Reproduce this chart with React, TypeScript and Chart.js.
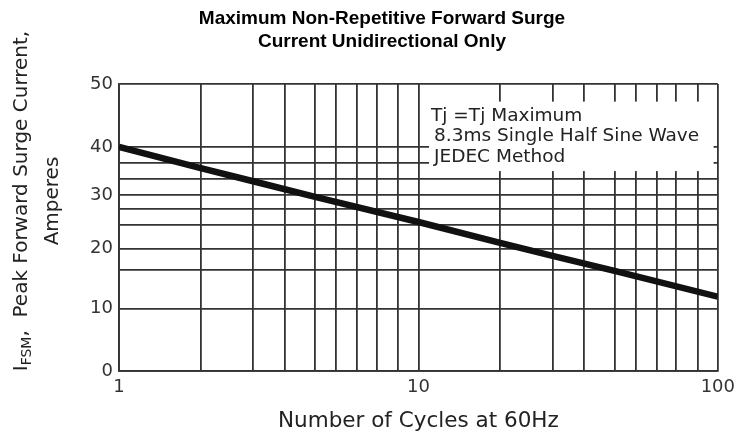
import React, { useEffect, useRef } from 'react';
import { Chart, LinearScale, registerables } from 'chart.js';

Chart.register(...registerables);

// ---------------- data ----------------
const cycles = [1, 2, 3, 5, 10, 20, 30, 50, 100];
const surgeAmps = [40, 35.6, 32.9, 29.7, 25, 21.1, 18.8, 16.3, 12];

const xGridValues = [1, 2, 3, 4, 5, 6, 7, 8, 9, 10, 20, 30, 40, 50, 60, 70, 80, 90, 100];
const xTickLabels = [1, 10, 100];
const yGridValues = [0, 10, 16.4, 20, 24.5, 27.5, 30, 33.4, 36.7, 40, 50];
const yTickLabels = [0, 10, 20, 30, 40, 50];

const titleLines = ['Maximum Non-Repetitive Forward Surge', 'Current Unidirectional Only'];
const noteLines = ['Tj =Tj Maximum', '8.3ms Single Half Sine Wave', 'JEDEC Method'];
const xAxisTitle = 'Number of Cycles at 60Hz';
const yAxisTitleSymbol = 'I';
const yAxisTitleSub = 'FSM';
const yAxisTitleRest = ',  Peak Forward Surge Current,';
const yAxisTitleUnit = 'Amperes';

// ------------- axis calibration (printed-grid geometry) -------------
const decadeSpacing = [0, 0.273, 0.448, 0.554, 0.655, 0.725, 0.795, 0.861, 0.932, 1];
const xCalFractions = xGridValues.map((v, i) =>
  i < 10 ? 0.5 * decadeSpacing[i] : 0.5 + 0.5 * decadeSpacing[i - 9]
);
const yCalValues = [0, 10, 20, 30, 40, 50];
const yCalFractions = [0, 0.2171, 0.4259, 0.6124, 0.7808, 1];

function interp(xs: number[], ys: number[], v: number): number {
  const n = xs.length;
  if (v <= xs[0]) return ys[0] + ((v - xs[0]) * (ys[1] - ys[0])) / (xs[1] - xs[0]);
  for (let i = 1; i < n; i++) {
    if (v <= xs[i]) {
      const t = (v - xs[i - 1]) / (xs[i] - xs[i - 1]);
      return ys[i - 1] + t * (ys[i] - ys[i - 1]);
    }
  }
  return ys[n - 1] + ((v - xs[n - 1]) * (ys[n - 1] - ys[n - 2])) / (xs[n - 1] - xs[n - 2]);
}

function makeCalibratedScale(id: string, values: number[], fractions: number[]) {
  return class extends LinearScale {
    static id = id;
    getPixelForValue(value: any) {
      if (value === null || value === undefined || isNaN(value)) return NaN;
      return this.getPixelForDecimal(interp(values, fractions, value));
    }
    getValueForPixel(pixel: number) {
      return interp(fractions, values, this.getDecimalForPixel(pixel));
    }
  };
}

const CalibratedX = makeCalibratedScale('calibratedX', xGridValues, xCalFractions);
const CalibratedY = makeCalibratedScale('calibratedY', yCalValues, yCalFractions);
Chart.register(CalibratedX as any, CalibratedY as any);

const FONT = '"DejaVu Sans", sans-serif';
const GRID = '#333';

const decorPlugin = {
  id: 'decor',
  beforeDatasetsDraw(chart: any) {
    const { ctx } = chart;
    const xs = chart.scales.x;
    const ys = chart.scales.y;
    const l = xs.getPixelForValue(11.3);
    const r = xs.getPixelForValue(97.9);
    const t = ys.getPixelForValue(47.2);
    const b = ys.getPixelForValue(35.0);
    ctx.save();
    ctx.fillStyle = '#fff';
    ctx.fillRect(l, t, r - l, b - t);
    ctx.restore();
  },
  afterDraw(chart: any) {
    const { ctx } = chart;
    const xs = chart.scales.x;
    const ys = chart.scales.y;
    ctx.save();
    // note text
    const l = xs.getPixelForValue(11.3);
    const t = ys.getPixelForValue(47.2);
    ctx.fillStyle = '#222';
    ctx.font = `18.5px ${FONT}`;
    ctx.textBaseline = 'middle';
    ctx.textAlign = 'left';
    ctx.fillText(noteLines[0], l + 2, t + 15);
    ctx.fillText(noteLines[1], l + 5, t + 35);
    ctx.fillText(noteLines[2], l + 5, t + 56);

    // main title
    ctx.fillStyle = '#000';
    ctx.font = `bold 19px "Liberation Sans", Arial, sans-serif`;
    ctx.textAlign = 'center';
    ctx.fillText(titleLines[0], 382, 19);
    ctx.fillText(titleLines[1], 382, 42);

    // y axis title (rotated)
    ctx.fillStyle = '#222';
    ctx.translate(0, 201);
    ctx.rotate(-Math.PI / 2);
    ctx.textAlign = 'left';
    ctx.textBaseline = 'alphabetic';
    const big = `20px ${FONT}`;
    const small = `14px ${FONT}`;
    ctx.font = big;
    const wI = ctx.measureText(yAxisTitleSymbol).width;
    const wRest = ctx.measureText(yAxisTitleRest).width;
    ctx.font = small;
    const wSub = ctx.measureText(yAxisTitleSub).width;
    let px = -(wI + wSub + wRest) / 2;
    ctx.font = big;
    ctx.fillText(yAxisTitleSymbol, px, 27);
    px += wI;
    ctx.font = small;
    ctx.fillText(yAxisTitleSub, px, 31);
    px += wSub;
    ctx.font = big;
    ctx.fillText(yAxisTitleRest, px, 27);
    ctx.textAlign = 'center';
    ctx.fillText(yAxisTitleUnit, 0, 57.5);
    ctx.restore();
  },
};

export default function App() {
  const ref = useRef<HTMLCanvasElement | null>(null);
  useEffect(() => {
    const canvas = ref.current;
    if (!canvas) return;
    const chart = new Chart(canvas, {
      type: 'line',
      data: {
        datasets: [
          {
            data: cycles.map((c, i) => ({ x: c, y: surgeAmps[i] })),
            borderColor: '#111',
            borderWidth: 6.5,
            pointRadius: 0,
            tension: 0,
            fill: false,
          },
        ],
      },
      options: {
        responsive: false,
        animation: false,
        devicePixelRatio: 1,
        events: [],
        layout: { padding: { top: 84, right: 23, left: 0, bottom: 0 } },
        plugins: {
          legend: { display: false },
          tooltip: { enabled: false },
          title: { display: false },
        },
        scales: {
          x: {
            type: 'calibratedX' as any,
            min: 1,
            max: 100,
            afterBuildTicks: (s: any) => {
              s.ticks = xGridValues.map((v) => ({ value: v }));
            },
            afterFit: (s: any) => {
              s.height = 69;
            },
            grid: { color: GRID, lineWidth: 1.8, drawTicks: false },
            border: { display: true, color: GRID, width: 1.8 },
            ticks: {
              autoSkip: false,
              maxRotation: 0,
              padding: 6,
              color: '#333',
              font: { family: FONT, size: 18 },
              callback: (v: any) => (xTickLabels.includes(Number(v)) ? String(v) : ''),
            },
            title: {
              display: true,
              text: xAxisTitle,
              color: '#222',
              font: { family: FONT, size: 21.5 },
              padding: { top: 0, bottom: 6 },
            },
          },
          y: {
            type: 'calibratedY' as any,
            min: 0,
            max: 50,
            afterBuildTicks: (s: any) => {
              s.ticks = yGridValues.map((v) => ({ value: v }));
            },
            afterFit: (s: any) => {
              s.width = 119;
            },
            grid: { color: GRID, lineWidth: 1.8, drawTicks: false },
            border: { display: true, color: GRID, width: 1.8 },
            ticks: {
              autoSkip: false,
              padding: 6,
              color: '#333',
              font: { family: FONT, size: 18 },
              callback: (v: any) => (yTickLabels.includes(Number(v)) ? String(v) : ''),
            },
          },
        },
      },
      plugins: [decorPlugin],
    });
    return () => chart.destroy();
  }, []);

  return (
    <div style={{ position: 'absolute', left: 0, top: 0, width: 741, height: 440, background: '#fff' }}>
      <canvas ref={ref} width={741} height={440} style={{ display: 'block', width: 741, height: 440 }} />
    </div>
  );
}
